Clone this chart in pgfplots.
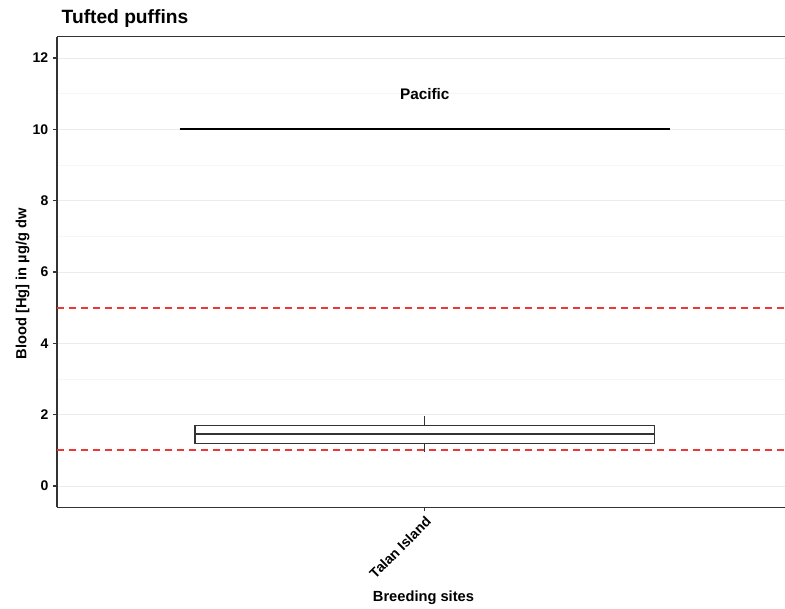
\documentclass[border=0pt]{standalone}
\usepackage{fontspec}
\setmainfont{Liberation Sans}
\usepackage{pgfplots}
\pgfplotsset{compat=1.18}
\usepgfplotslibrary{statistics}
\definecolor{gridc}{RGB}{235,235,235}
\definecolor{minorc}{RGB}{246,246,246}
\definecolor{refred}{RGB}{235,55,55}
\definecolor{axc}{RGB}{51,51,51}
\begin{document}
\begin{tikzpicture}
\useasboundingbox (0,0) rectangle (588.75pt,456pt);
\node[anchor=base west, font=\bfseries\fontsize{14.4}{16}\selectfont] at (42.75pt,438pt) {Tufted puffins};
\begin{axis}[
 at={(42.75pt,75.45pt)}, anchor=south west,
 scale only axis, width=546pt, height=353.1pt,
 xmin=0.4, xmax=1.5876, ymin=-0.6, ymax=12.6,
 axis x line*=bottom, axis y line*=left,
 axis line style={axc, line width=1.2pt},
 xtick={1}, xticklabels={Talan Island},
 ytick={0,2,...,12},
 minor ytick={1,3,...,11},
 ymajorgrids, yminorgrids,
 major grid style={gridc, line width=0.75pt},
 minor grid style={minorc, line width=0.4pt},
 tick align=outside, major tick length=3pt, minor tick length=0pt,
 tick style={axc, line width=0.8pt},
 ticklabel style={font=\bfseries\fontsize{10.5}{12}\selectfont, black},
 /pgf/number format/assume math mode=true,
 xticklabel style={rotate=45, anchor=north east, inner sep=2pt},
 xlabel={Breeding sites}, ylabel={Blood [Hg] in µg/g dw},
 label style={font=\bfseries\fontsize{11}{13}\selectfont},
 xlabel style={at={(axis description cs:0.5034,-0.1988)}, anchor=base},
 ylabel style={at={(axis description cs:-0.0474,0.475)}, anchor=center},
 clip=false,
]
\addplot[draw=refred, line width=1.4pt, dash pattern=on 5.5pt off 3.5pt] coordinates {(0.4,1) (1.5876,1)};
\addplot[draw=refred, line width=1.4pt, dash pattern=on 5.5pt off 3.5pt] coordinates {(0.4,5) (1.5876,5)};
\addplot[black, line width=1.3pt] coordinates {(0.6,10) (1.4,10)};
\addplot[axc, line width=0.9pt, boxplot/draw direction=y, boxplot prepared={draw position=1, median=1.45, lower quartile=1.2, upper quartile=1.7, lower whisker=0.95, upper whisker=1.95, box extend=0.75, whisker extend=0, every median/.style={line width=1.8pt}}] coordinates {};
\node[font=\bfseries\fontsize{11.5}{13}\selectfont] at (axis cs:1,11) {Pacific};
\draw[axc, line width=1.2pt] (rel axis cs:0,1) -- (rel axis cs:1,1);
\end{axis}
\end{tikzpicture}
\end{document}
